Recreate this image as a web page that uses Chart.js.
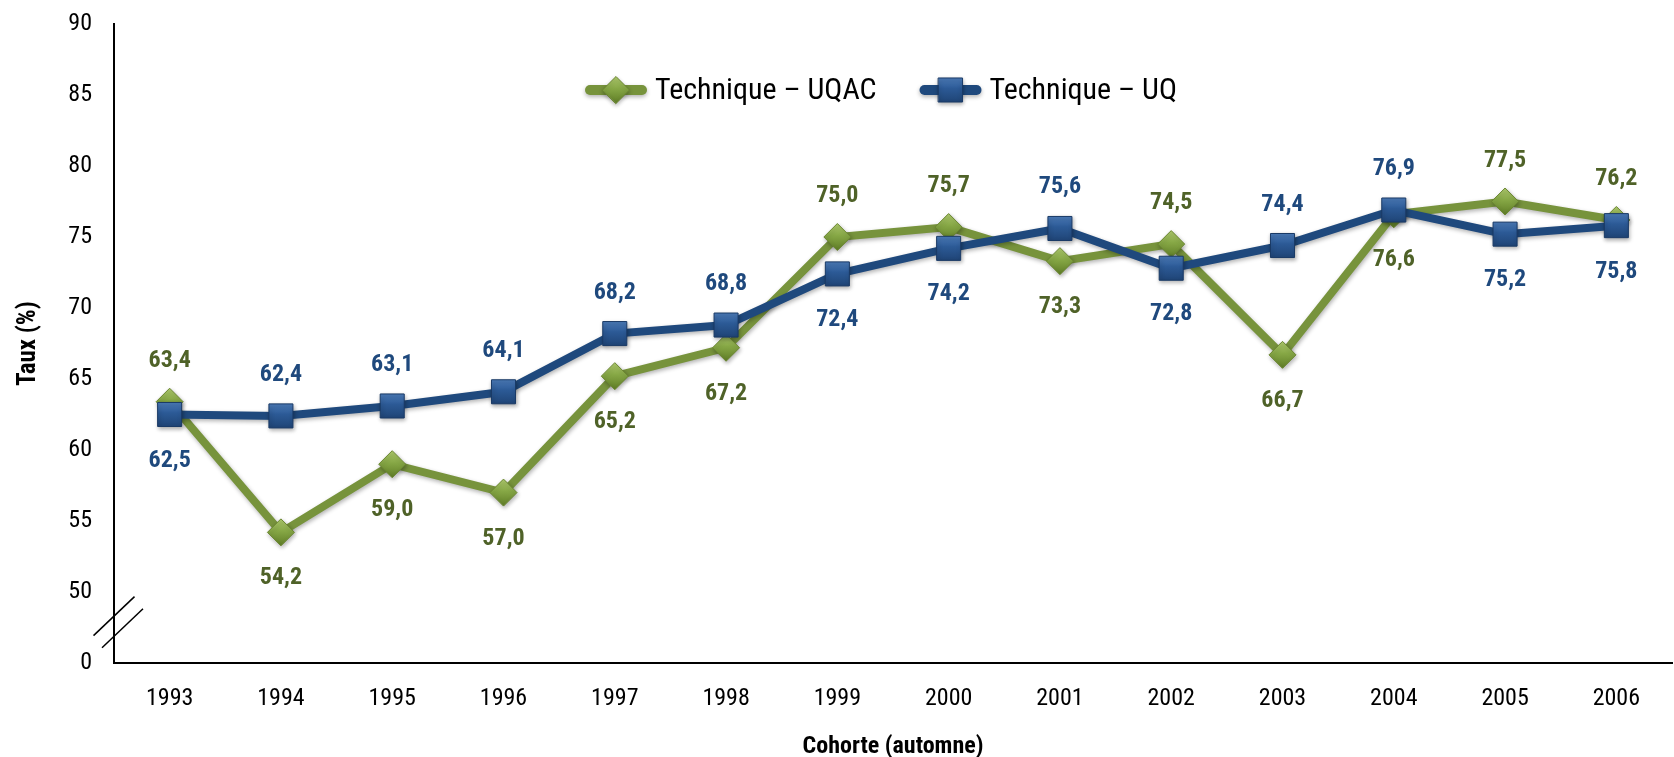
<!DOCTYPE html>
<html lang="fr">
<head>
<meta charset="utf-8">
<title>Taux par cohorte – Technique UQAC / UQ</title>
<script src="https://cdn.jsdelivr.net/npm/chart.js@4.4.1/dist/chart.umd.min.js"></script>
<style>
    html, body { margin: 0; padding: 0; background: #fff; overflow: hidden; }
    #wrap { width: 1690px; height: 757px; }
</style>
</head>
<body>
<div id="wrap"><canvas id="tauxChart" width="1690" height="757"></canvas></div>
<script>
// Values
const cohortes = ['1993', '1994', '1995', '1996', '1997', '1998', '1999',
                  '2000', '2001', '2002', '2003', '2004', '2005', '2006'];
const tauxUQAC = [63.4, 54.2, 59.0, 57.0, 65.2, 67.2, 75.0, 75.7, 73.3, 74.5, 66.7, 76.6, 77.5, 76.2];
const tauxUQ   = [62.5, 62.4, 63.1, 64.1, 68.2, 68.8, 72.4, 74.2, 75.6, 72.8, 74.4, 76.9, 75.2, 75.8];
const yTickLabels = ['0', '50', '55', '60', '65', '70', '75', '80', '85', '90'];

const NARROW = '"Roboto Condensed", "Liberation Sans Narrow", "Liberation Sans", sans-serif';
const GREEN = '#77933C';
const BLUE = '#1F497D';

// marker gradient stops (top -> bottom)
const markerShades = {
    rectRot: ['#AFCB6E', '#86A745', '#5F7D26'],
    rect: ['#5B8CCB', '#2C5A96', '#1B3D6B']
};

/**
 * Vertical gradient for a marker centred on y
 */
function markerFill(ctx, style, y, r) {
    const shades = markerShades[style];
    if (!isFinite(y) || !isFinite(r)) return shades[1];
    const g = ctx.createLinearGradient(0, y - r, 0, y + r);
    g.addColorStop(0, shades[0]);
    g.addColorStop(0.45, shades[1]);
    g.addColorStop(1, shades[2]);
    return g;
}

/**
 * Scriptable point fill, uses the y scale to know where the point sits
 */
function pointFill(context) {
    const chart = context.chart;
    const ds = context.dataset;
    const yScale = chart.scales && chart.scales.y;
    const y = yScale ? yScale.getPixelForValue(context.raw) : NaN;
    return markerFill(chart.ctx, ds.pointStyle, y, ds.pointRadius);
}

/**
 * Format a value the French way (comma decimal)
 */
function formatTaux(v) {
    return v.toFixed(1).replace('.', ',');
}

/**
 * Shadows under the series, then value labels above / below each point
 */
const valueLabels = {
    id: 'valueLabels',
    beforeDatasetsDraw(chart) {
        const ctx = chart.ctx;
        ctx.save();
        ctx.shadowColor = 'rgba(0, 0, 0, 0.3)';
        ctx.shadowBlur = 4;
        ctx.shadowOffsetX = 1;
        ctx.shadowOffsetY = 2;
    },
    afterDatasetsDraw(chart) {
        const ctx = chart.ctx;
        ctx.restore();
        ctx.save();
        ctx.font = 'bold 24px ' + NARROW;
        ctx.textAlign = 'center';
        ctx.textBaseline = 'middle';
        const sets = chart.data.datasets;
        sets.forEach((ds, i) => {
            const other = sets[1 - i].data;
            const meta = chart.getDatasetMeta(i);
            ctx.fillStyle = ds.labelColor;
            meta.data.forEach((pt, j) => {
                // the higher series of the two gets its label above the point
                const above = ds.data[j] >= other[j];
                ctx.fillText(formatTaux(ds.data[j]), pt.x, above ? pt.y - 41 : pt.y + 46);
            });
        });
        ctx.restore();
    }
};

/**
 * Legend drawn inside the plot area, and the axis break marks
 */
const extras = {
    id: 'extras',
    afterDraw(chart) {
        const ctx = chart.ctx;
        const area = chart.chartArea;
        const yScale = chart.scales.y;
        ctx.save();

        // axis break: two slashes across the y axis
        ctx.strokeStyle = '#000';
        ctx.lineWidth = 1.5;
        const y1 = yScale.getPixelForValue(48.3);
        const y2 = yScale.getPixelForValue(47.45);
        [[area.left, y1], [area.left + 8.5, y2]].forEach(([cx, cy]) => {
            ctx.beginPath();
            ctx.moveTo(cx - 20.5, cy + 19.5);
            ctx.lineTo(cx + 20.5, cy - 19.5);
            ctx.stroke();
        });

        // legend
        ctx.font = '30px ' + NARROW;
        ctx.textBaseline = 'middle';
        ctx.textAlign = 'left';
        let x = 585;
        const y = 90;
        chart.data.datasets.forEach(ds => {
            ctx.shadowColor = 'rgba(0, 0, 0, 0.3)';
            ctx.shadowBlur = 4;
            ctx.shadowOffsetY = 2;
            ctx.strokeStyle = ds.borderColor;
            ctx.lineWidth = 10;
            ctx.lineCap = 'round';
            ctx.beginPath();
            ctx.moveTo(x + 5, y);
            ctx.lineTo(x + 57, y);
            ctx.stroke();
            ctx.fillStyle = markerFill(ctx, ds.pointStyle, y, ds.pointRadius);
            ctx.strokeStyle = ds.pointBorderColor;
            ctx.lineWidth = 1;
            Chart.helpers.drawPoint(ctx, {
                pointStyle: ds.pointStyle,
                radius: ds.pointRadius,
                borderWidth: 1,
                rotation: 0
            }, x + 31, y);
            ctx.shadowColor = 'transparent';
            ctx.fillStyle = '#000';
            ctx.fillText(ds.label, x + 70, y + 1);
            x += 70 + ctx.measureText(ds.label).width + 43;
        });
        ctx.restore();
    }
};

const ctx = document.getElementById('tauxChart').getContext('2d');
new Chart(ctx, {
    type: 'line',
    data: {
        labels: cohortes,
        datasets: [
            {
                label: 'Technique – UQAC',
                data: tauxUQAC,
                borderColor: GREEN,
                borderWidth: 8,
                pointStyle: 'rectRot',
                pointRadius: 13.5,
                pointBackgroundColor: pointFill,
                pointBorderColor: '#6A8630',
                pointBorderWidth: 1,
                labelColor: '#4F6228',
                tension: 0,
                order: 2
            },
            {
                label: 'Technique – UQ',
                data: tauxUQ,
                borderColor: BLUE,
                borderWidth: 8,
                pointStyle: 'rect',
                pointRadius: 17,
                pointBackgroundColor: pointFill,
                pointBorderColor: '#1A3A66',
                pointBorderWidth: 1,
                labelColor: '#1F497D',
                tension: 0,
                order: 1
            }
        ]
    },
    options: {
        responsive: false,
        animation: false,
        layout: {
            padding: { top: 24, right: 2, bottom: 0, left: 0 }
        },
        plugins: {
            legend: { display: false },
            tooltip: { enabled: false }
        },
        scales: {
            x: {
                offset: true,
                grid: { display: false, drawTicks: false },
                border: { display: true, color: '#000', width: 2 },
                ticks: {
                    color: '#000',
                    padding: 22,
                    font: { family: NARROW, size: 24 }
                },
                title: {
                    display: true,
                    text: 'Cohorte (automne)',
                    color: '#000',
                    padding: { top: 0, bottom: 0 },
                    font: { family: NARROW, size: 24, weight: 'bold', lineHeight: 0.8 }
                },
                afterFit(scale) { scale.height = 94; }
            },
            y: {
                min: 45,
                max: 90,
                grid: { display: false, drawTicks: false },
                border: { display: true, color: '#000', width: 2 },
                ticks: {
                    stepSize: 5,
                    color: '#000',
                    padding: 22,
                    font: { family: NARROW, size: 24 },
                    callback: (value, index) => yTickLabels[index]
                },
                title: {
                    display: true,
                    text: 'Taux (%)',
                    color: '#000',
                    padding: { top: 16, bottom: 0 },
                    font: { family: NARROW, size: 25, weight: 'bold', lineHeight: 1 }
                },
                afterFit(scale) {
                    scale.width = 114;
                    scale.paddingTop = 0;
                    scale.paddingBottom = 0;
                }
            }
        }
    },
    plugins: [valueLabels, extras]
});
</script>
</body>
</html>
